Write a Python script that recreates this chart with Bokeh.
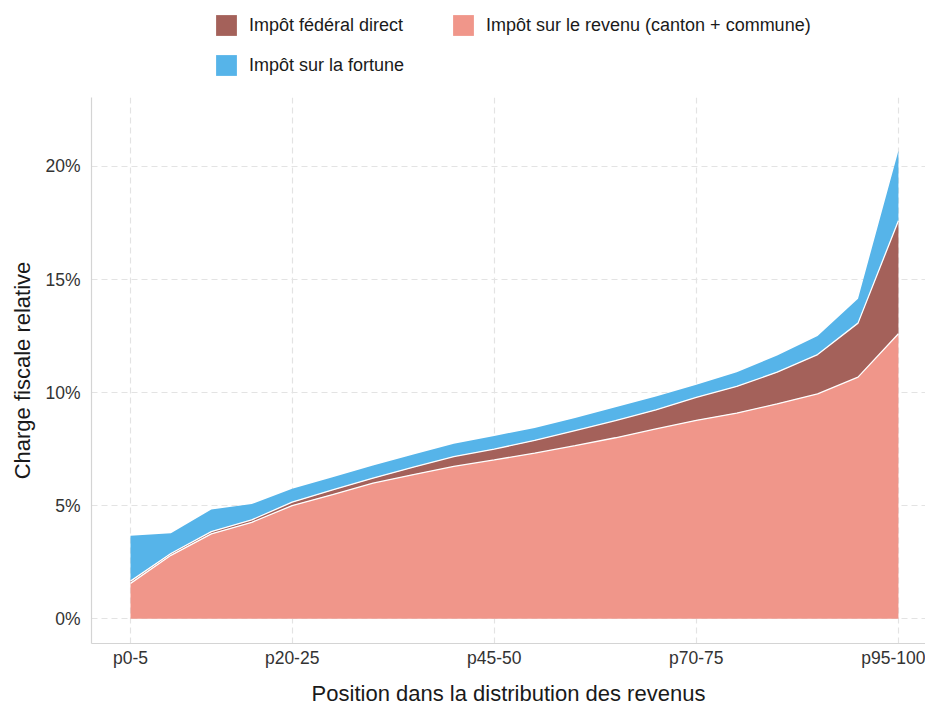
from bokeh.plotting import figure
from bokeh.layouts import column
from bokeh.models import (ColumnDataSource, FixedTicker, PrintfTickFormatter,
                          Legend, LegendItem, Range1d)
from bokeh.embed import file_html
from bokeh.resources import INLINE

categories = ["p0-5", "p5-10", "p10-15", "p15-20", "p20-25", "p25-30", "p30-35",
              "p35-40", "p40-45", "p45-50", "p50-55", "p55-60", "p60-65", "p65-70",
              "p70-75", "p75-80", "p80-85", "p85-90", "p90-95", "p95-100"]
impot_revenu = [1.56, 2.80, 3.75, 4.26, 5.00, 5.49, 5.99, 6.37, 6.73, 7.02,
                7.32, 7.65, 8.00, 8.39, 8.77, 9.09, 9.50, 9.94, 10.68, 12.60]
impot_federal = [0.10, 0.08, 0.10, 0.11, 0.15, 0.20, 0.22, 0.33, 0.44, 0.48,
                 0.56, 0.67, 0.76, 0.84, 1.02, 1.18, 1.40, 1.74, 2.39, 5.00]
impot_fortune = [2.01, 0.90, 0.98, 0.70, 0.59, 0.56, 0.56, 0.56, 0.56, 0.58,
                 0.55, 0.55, 0.59, 0.59, 0.56, 0.63, 0.74, 0.82, 1.08, 3.10]
series_labels = ["Impôt sur le revenu (canton + commune)", "Impôt fédéral direct",
                 "Impôt sur la fortune"]
tick_categories = ["p0-5", "p20-25", "p45-50", "p70-75", "p95-100"]
y_ticks = [0, 5, 10, 15, 20]

FONT = "Liberation Sans"
COLORS = ["#F0968A", "#A4615A", "#56B4E9"]
W = 925

xs = list(range(len(categories)))
top1 = list(impot_revenu)
top2 = [a + b for a, b in zip(impot_revenu, impot_federal)]
src = ColumnDataSource(dict(x=xs, rev=impot_revenu, fed=impot_federal,
                            fort=impot_fortune, t1=top1, t2=top2))

# ---------------- main chart ----------------
p = figure(width=W, height=612, output_backend="svg", toolbar_location=None,
           x_range=Range1d(-0.965, 19.67), y_range=Range1d(-1.1, 23.05),
           min_border_left=91, min_border_right=0, min_border_top=0,
           min_border_bottom=66)
p.outline_line_color = None

r = p.varea_stack(stackers=["rev", "fed", "fort"], x="x", source=src, color=COLORS)
p.line(x="x", y="t1", source=src, line_color="white", line_width=1.3)
p.line(x="x", y="t2", source=src, line_color="white", line_width=1.3)

p.xaxis.ticker = FixedTicker(ticks=[categories.index(c) for c in tick_categories])
p.xaxis.major_label_overrides = {categories.index(c): c for c in tick_categories}
p.yaxis.ticker = FixedTicker(ticks=y_ticks)
p.yaxis.formatter = PrintfTickFormatter(format="%d%%")
for ax in (p.xaxis[0], p.yaxis[0]):
    ax.axis_line_color = "#D4D4D4"
    ax.axis_line_width = 1.2
    ax.major_tick_line_color = None
    ax.minor_tick_line_color = None
    ax.major_tick_out = 0
    ax.major_tick_in = 0
    ax.major_label_text_font = FONT
    ax.major_label_text_font_size = "17.5px"
    ax.major_label_text_color = "#333333"
    ax.axis_label_text_font = FONT
    ax.axis_label_text_font_size = "22px"
    ax.axis_label_text_font_style = "normal"
    ax.axis_label_text_color = "#1a1a1a"
p.xaxis.axis_label = "Position dans la distribution des revenus"
p.yaxis.axis_label = "Charge fiscale relative"
p.xaxis.major_label_standoff = 4
p.yaxis.major_label_standoff = 11
p.xaxis.axis_label_standoff = 10
p.yaxis.axis_label_standoff = 7

p.xgrid.ticker = p.xaxis.ticker
p.ygrid.ticker = p.yaxis.ticker
for g in (p.xgrid[0], p.ygrid[0]):
    g.grid_line_color = "#E3E3E3"
    g.grid_line_dash = "6 4"
    g.grid_line_width = 1.2

# ---------------- legend strip ----------------
lg = figure(width=W, height=97, output_backend="svg", toolbar_location=None,
            x_range=Range1d(0, 1), y_range=Range1d(0, 1),
            x_axis_type=None, y_axis_type=None,
            min_border_left=91, min_border_right=0, min_border_top=0,
            min_border_bottom=0)
lg.outline_line_color = None
lg.xgrid.visible = False
lg.ygrid.visible = False
# zero-area swatch renderers (legend keys only)
dummies = [lg.varea(x=[0, 0], y1=[0, 0], y2=[0, 0], color=c) for c in COLORS]

legend = Legend(items=[
    LegendItem(label=series_labels[1], renderers=[dummies[1]]),
    LegendItem(label=series_labels[0], renderers=[dummies[0]]),
    LegendItem(label=series_labels[2], renderers=[dummies[2]]),
], orientation="horizontal", ncols=2, location=(122, 19),
    padding=0, margin=0, spacing=14, label_width=187,
    glyph_width=26, glyph_height=26, label_standoff=10,
    border_line_color=None, background_fill_alpha=0,
    label_text_font=FONT, label_text_font_size="18px", label_text_color="#1a1a1a")
lg.add_layout(legend, "center")

layout = column(lg, p, spacing=0)
open("out.html", "w").write(file_html(layout, INLINE))
